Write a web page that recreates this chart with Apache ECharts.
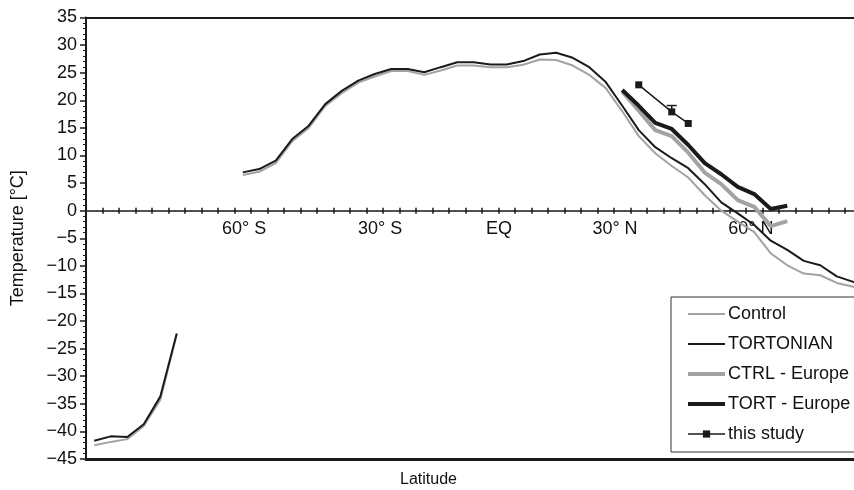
<!DOCTYPE html>
<html><head><meta charset="utf-8">
<script src="https://cdn.jsdelivr.net/npm/echarts@6/dist/echarts.min.js"></script>
<style>html,body{margin:0;padding:0;background:#fff}#c{width:854px;height:490px}</style>
</head><body><div id="c"></div>
<script>
// grid cell index (48 model latitudes, south to north)
const cells = Array.from({length: 48}, (_, i) => i);
const latLabels = ['60° S', '30° S', 'EQ', '30° N', '60° N'];
const latLabelPos = [9.58, 17.82, 25.03, 32.06, 40.3];
const yTicks = [-45, 35, 5];

const control = [-42.5,-41.9,-41.4,-39.0,-34.3,-22.4,null,null,null,
  6.45,7.05,8.6,12.6,15.0,18.96,21.3,23.2,24.3,25.3,25.3,24.6,25.4,26.3,26.3,26.0,26.0,26.45,27.4,27.3,26.3,24.6,22.2,
  18.0,13.5,10.4,8.1,6.0,2.8,0.0,-2.0,-3.9,-7.75,-9.9,-11.4,-11.7,-13.1,-13.8,-14.5];
const tortonian = [-41.7,-40.9,-41.0,-38.7,-33.7,-22.25,null,null,null,
  6.94,7.54,9.05,12.98,15.4,19.3,21.7,23.55,24.76,25.67,25.67,25.07,26.0,26.9,26.9,26.5,26.5,27.1,28.3,28.6,27.7,26.0,23.3,
  19.0,14.6,11.5,9.5,7.7,4.8,1.5,-0.5,-2.6,-5.45,-7.1,-9.1,-9.9,-11.9,-12.9,-13.8];
const europeCells = [32,33,34,35,36,37,38,39,40,41,42];
const ctrlEurope = [21.6,18.1,14.6,13.5,10.5,6.9,4.8,1.9,0.7,-2.8,-1.9];
const tortEurope = [21.85,19.0,15.9,14.8,11.9,8.6,6.6,4.3,3.0,0.3,0.9];
const studyCells = [33,35,36];
const study = [22.8,17.9,15.8];
const studyErr = [null,1.15,null];

const pos = i => i + 0.5;
const pair = (xs, ys) => xs.map((c, k) => [pos(c), ys[k]]);

const FONT = 'Liberation Sans, Arial, sans-serif';
const DARK = '#1a1a1a', GRAY = '#a3a3a3';

const GRID_TOP = 17.5, GRID_BOTTOM = 31, H = 490;
const gridH = H - GRID_TOP - GRID_BOTTOM;
// shift the latitude axis from the grid bottom up to the value 0
const zeroOffset = -(0 - yTicks[0]) / (yTicks[1] - yTicks[0]) * gridH;

const chart = echarts.init(document.getElementById('c'), null, {renderer: 'canvas'});
const baseX = {type: 'value', min: 0, max: 48, splitLine: {show: false}, gridIndex: 0};
chart.setOption({
  animation: false,
  backgroundColor: '#fff',
  grid: {left: 86, top: GRID_TOP, width: 792, bottom: GRID_BOTTOM, containLabel: false, outerBoundsMode: 'none'},
  xAxis: [
    Object.assign({}, baseX, {
      position: 'bottom', offset: zeroOffset,
      axisLine: {onZero: false, lineStyle: {color: DARK, width: 1.5}},
      axisTick: {show: true, length: 3, inside: false, customValues: cells.concat([48]), lineStyle: {color: DARK, width: 1.5}},
      axisLabel: {show: true, customValues: latLabelPos, margin: 9, fontSize: 18, color: '#111', fontFamily: FONT,
        formatter: v => { const k = latLabelPos.findIndex(p => Math.abs(p - v) < 1e-6); return k >= 0 ? latLabels[k] : ''; }}
    }),
    Object.assign({}, baseX, {
      position: 'bottom', offset: zeroOffset,
      axisLine: {show: false, onZero: false},
      axisTick: {show: true, length: 3, inside: true, customValues: cells.concat([48]), lineStyle: {color: DARK, width: 1.5}},
      axisLabel: {show: false}
    }),
    Object.assign({}, baseX, {
      position: 'top',
      axisLine: {show: true, onZero: false, lineStyle: {color: DARK, width: 2}},
      axisTick: {show: false}, axisLabel: {show: false}
    }),
    Object.assign({}, baseX, {
      position: 'bottom',
      axisLine: {show: true, onZero: false, lineStyle: {color: DARK, width: 3}},
      axisTick: {show: false}, axisLabel: {show: false}
    })
  ],
  yAxis: {
    type: 'value', min: yTicks[0], max: yTicks[1], interval: yTicks[2], splitLine: {show: false},
    name: 'Temperature [°C]', nameLocation: 'middle', nameGap: 59, nameRotate: 90,
    nameTextStyle: {fontSize: 18, color: '#111', fontFamily: FONT},
    axisLine: {show: true, onZero: false, lineStyle: {color: DARK, width: 2}},
    axisTick: {show: true, length: 6, lineStyle: {color: DARK, width: 1.5}},
    minorTick: {show: true, splitNumber: 5, length: 3, lineStyle: {color: DARK, width: 1}},
    axisLabel: {fontSize: 18, color: '#111', fontFamily: FONT, margin: 9,
      formatter: v => String(v).replace('-', '\u2212')}
  },
  legend: {
    orient: 'vertical', left: 671, top: 297,
    itemWidth: 37, itemHeight: 9, itemGap: 12,
    padding: [8, 40, 9, 15],
    borderColor: '#333', borderWidth: 1, backgroundColor: '#fff',
    itemStyle: {opacity: 0},
    textStyle: {fontSize: 18, color: '#111', fontFamily: FONT, padding: [0, 0, 0, -2]},
    data: [
      {name: 'Control', lineStyle: {width: 2}},
      {name: 'TORTONIAN', lineStyle: {width: 2}},
      {name: 'CTRL - Europe', lineStyle: {width: 4}},
      {name: 'TORT - Europe', lineStyle: {width: 4}},
      {name: 'this study', lineStyle: {width: 1.5}, itemStyle: {opacity: 1}}]
  },
  graphic: [{type: 'text', left: 400, top: 472,
    style: {text: 'Latitude', fontSize: 16, fill: '#111', fontFamily: FONT}}],
  series: [
    {name: 'Control', type: 'line', data: pair(cells, control), symbol: 'none', connectNulls: false,
      lineStyle: {color: GRAY, width: 2}, itemStyle: {color: GRAY}, z: 2},
    {name: 'TORTONIAN', type: 'line', data: pair(cells, tortonian), symbol: 'none', connectNulls: false,
      lineStyle: {color: DARK, width: 2}, itemStyle: {color: DARK}, z: 3},
    {name: 'CTRL - Europe', type: 'line', data: pair(europeCells, ctrlEurope), symbol: 'none',
      lineStyle: {color: GRAY, width: 4}, itemStyle: {color: GRAY}, z: 4},
    {name: 'TORT - Europe', type: 'line', data: pair(europeCells, tortEurope), symbol: 'none',
      lineStyle: {color: DARK, width: 4}, itemStyle: {color: DARK}, z: 5},
    {name: 'this study', type: 'line', data: pair(studyCells, study), symbol: 'rect', symbolSize: 7,
      lineStyle: {color: DARK, width: 1.5}, itemStyle: {color: DARK}, z: 6},
    {name: 'err', type: 'custom', z: 6,
      data: studyCells.map((c, k) => [pos(c), study[k], studyErr[k]]).filter(d => d[2] != null),
      encode: {x: 0, y: 1},
      renderItem: (params, api) => {
        const x = api.value(0), y = api.value(1), e = api.value(2);
        const c = api.coord([x, y]), t = api.coord([x, y + e]);
        const st = {stroke: DARK, lineWidth: 1.5};
        return {type: 'group', children: [
          {type: 'line', shape: {x1: c[0], y1: c[1], x2: t[0], y2: t[1]}, style: st},
          {type: 'line', shape: {x1: t[0] - 5, y1: t[1], x2: t[0] + 5, y2: t[1]}, style: st}
        ]};
      }}
  ]
});
</script></body></html>
